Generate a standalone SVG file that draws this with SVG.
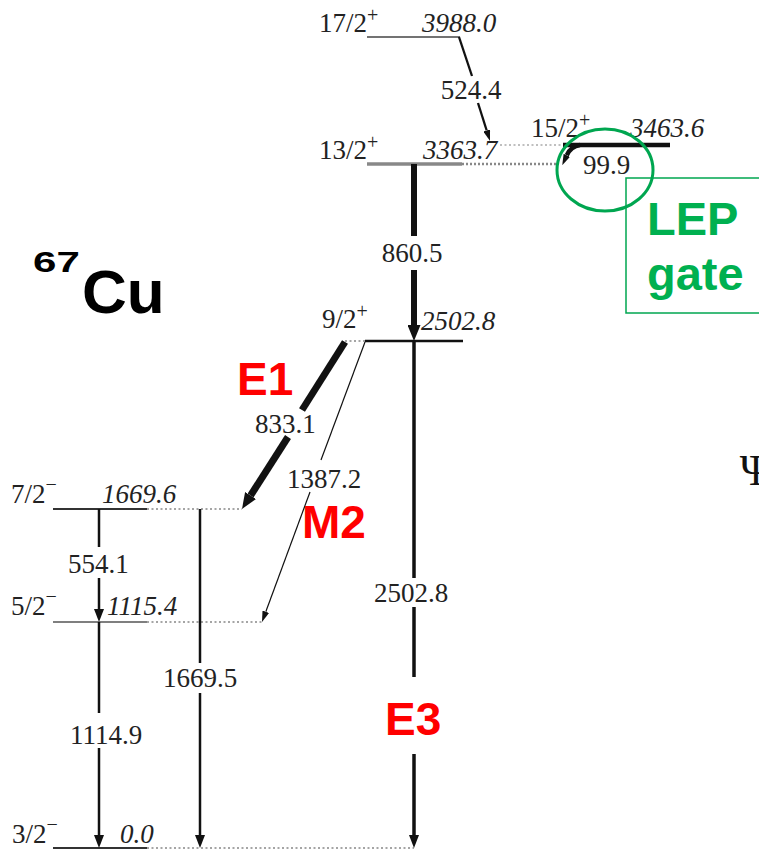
<svg xmlns="http://www.w3.org/2000/svg" width="759" height="851" viewBox="0 0 759 851">
<style>
.t{font-family:"Liberation Serif","Times New Roman",serif;font-size:27px;fill:#222}
.i{font-style:italic}
.sup{font-size:20px}
.lv{stroke:#333;stroke-width:2;fill:none}
.dot{stroke:#888;stroke-width:1.6;stroke-dasharray:2 2.5;fill:none}
.tr{stroke:#111;fill:none}
.red{font-family:"Liberation Sans",Arial,sans-serif;font-weight:bold;font-size:46px;fill:#ff0000}
.grn{font-family:"Liberation Sans",Arial,sans-serif;font-weight:bold;font-size:47px;fill:#00b050}
</style>
<defs>
<marker id="mBig" markerUnits="userSpaceOnUse" markerWidth="16" markerHeight="13" refX="0" refY="6.5" orient="auto"><path d="M0,0 L16,6.5 L0,13 z" fill="#111"/></marker>
<marker id="mMed" markerUnits="userSpaceOnUse" markerWidth="13" markerHeight="10" refX="0" refY="5" orient="auto"><path d="M0,0 L13,5 L0,10 z" fill="#111"/></marker>
<marker id="mThin" markerUnits="userSpaceOnUse" markerWidth="11" markerHeight="7" refX="0" refY="3.5" orient="auto"><path d="M0,0 L11,3.5 L0,7 z" fill="#111"/></marker>
</defs>
<rect width="759" height="851" fill="#fff"/>

<g id="title">
<text transform="translate(33,272) scale(1.45,1)" x="0" y="0" font-family="Liberation Sans,Arial,sans-serif" font-weight="bold" font-size="29" fill="#000">67</text>
<text x="82" y="313" font-family="Liberation Sans,Arial,sans-serif" font-weight="bold" font-size="62" fill="#000">Cu</text>
</g>

<g id="level-17-2">
<line class="lv" x1="367" y1="37" x2="460" y2="37" style="stroke-width:1.5;stroke:#444"/>
<text class="t" x="319" y="32">17/2<tspan class="sup" dy="-10">+</tspan></text>
<text class="t i" x="422" y="32">3988.0</text>
</g>

<g id="level-15-2">
<line class="dot" x1="500" y1="145" x2="563" y2="145" style="stroke:#aaa"/>
<line class="lv" x1="563" y1="145" x2="670" y2="145" style="stroke:#111;stroke-width:4.5"/>
<text class="t" x="531" y="137">15/2<tspan class="sup" dy="-10">+</tspan></text>
<text class="t i" x="630" y="137">3463.6</text>
</g>

<g id="level-13-2">
<line class="lv" x1="367" y1="164" x2="462" y2="164" style="stroke:#888;stroke-width:3.5"/>
<line class="dot" x1="462" y1="164" x2="557" y2="164" style="stroke-width:2.5;stroke-dasharray:2 2"/>
<text class="t" x="319" y="159">13/2<tspan class="sup" dy="-10">+</tspan></text>
<text class="t i" x="423" y="159">3363.7</text>
</g>

<g id="level-9-2">
<line class="dot" x1="345" y1="341" x2="365" y2="341"/>
<line class="lv" x1="365" y1="341" x2="463" y2="341" style="stroke:#111;stroke-width:2.5"/>
<text class="t" x="322" y="328">9/2<tspan class="sup" dy="-10">+</tspan></text>
<text class="t i" x="421" y="330">2502.8</text>
</g>

<g id="level-7-2">
<line class="lv" x1="53" y1="509" x2="147" y2="509"/>
<line class="dot" x1="147" y1="509" x2="242" y2="509"/>
<text class="t" x="11" y="503">7/2<tspan class="sup" dy="-12">−</tspan></text>
<text class="t i" x="102" y="503">1669.6</text>
</g>

<g id="level-5-2">
<line class="lv" x1="53" y1="622" x2="147" y2="622" style="stroke-width:1.5;stroke:#555"/>
<line class="dot" x1="147" y1="622" x2="262" y2="622"/>
<text class="t" x="11" y="615">5/2<tspan class="sup" dy="-12">−</tspan></text>
<text class="t i" x="107" y="615">1115.4</text>
</g>

<g id="level-3-2">
<line class="lv" x1="53" y1="848" x2="147" y2="848"/>
<line class="dot" x1="147" y1="848" x2="414" y2="848"/>
<text class="t" x="12" y="843">3/2<tspan class="sup" dy="-12">−</tspan></text>
<text class="t i" x="120" y="843">0.0</text>
</g>

<g id="connectors">
<!-- 524.4 -->
<line class="tr" stroke-width="2.3" x1="459" y1="37" x2="472" y2="76"/>
<line class="tr" stroke-width="2.3" x1="478" y1="103" x2="486.7" y2="130.5" marker-end="url(#mThin)"/>
<text class="t" x="471" y="99" text-anchor="middle">524.4</text>
<!-- 99.9 -->
<path class="tr" stroke-width="4.5" d="M580,145 Q571,146 566.8,155.3" marker-end="url(#mThin)"/>
<text class="t" x="583" y="174">99.9</text>
<!-- 860.5 -->
<line class="tr" stroke-width="6" x1="414" y1="164" x2="414" y2="236"/>
<line class="tr" stroke-width="6" x1="414" y1="270" x2="414" y2="325" marker-end="url(#mBig)"/>
<text class="t" x="412" y="262" text-anchor="middle">860.5</text>
<!-- 833.1 -->
<line class="tr" stroke-width="7" x1="345" y1="342" x2="302" y2="410"/>
<line class="tr" stroke-width="7" x1="288" y1="437" x2="250.6" y2="495.5" marker-end="url(#mBig)"/>
<text class="t" x="255" y="433">833.1</text>
<!-- 1387.2 -->
<line class="tr" stroke-width="1.2" x1="365" y1="342" x2="321" y2="460"/>
<line class="tr" stroke-width="1.2" x1="310" y1="492" x2="265.8" y2="611.7" marker-end="url(#mThin)"/>
<text class="t" x="287" y="488">1387.2</text>
<!-- 2502.8 -->
<line class="tr" stroke-width="3.5" x1="414" y1="341" x2="414" y2="578"/>
<line class="tr" stroke-width="3.5" x1="414" y1="607" x2="414" y2="677"/>
<line class="tr" stroke-width="3.5" x1="414" y1="754" x2="414" y2="835" marker-end="url(#mMed)"/>
<text class="t" x="411" y="602" text-anchor="middle">2502.8</text>
<!-- 554.1 -->
<line class="tr" stroke-width="2.5" x1="99" y1="509" x2="99" y2="547"/>
<line class="tr" stroke-width="2.5" x1="99" y1="578" x2="99" y2="609" marker-end="url(#mMed)"/>
<text class="t" x="68" y="573">554.1</text>
<!-- 1669.5 -->
<line class="tr" stroke-width="2.5" x1="200" y1="509" x2="200" y2="663"/>
<line class="tr" stroke-width="2.5" x1="200" y1="693" x2="200" y2="835" marker-end="url(#mMed)"/>
<text class="t" x="163" y="687">1669.5</text>
<!-- 1114.9 -->
<line class="tr" stroke-width="2.5" x1="99" y1="622" x2="99" y2="713"/>
<line class="tr" stroke-width="2.5" x1="99" y1="748" x2="99" y2="835" marker-end="url(#mMed)"/>
<text class="t" x="70" y="744">1114.9</text>
</g>

<g id="multipolarity">
<text class="red" x="237" y="395">E1</text>
<text class="red" x="302" y="538">M2</text>
<text class="red" x="385" y="735">E3</text>
</g>

<g id="lep-gate">
<ellipse cx="605" cy="170" rx="48" ry="41" fill="none" stroke="#00a650" stroke-width="3"/>
<rect x="626" y="178" width="140" height="135" fill="none" stroke="#00a650" stroke-width="1.5"/>
<text class="grn" x="647" y="235">LEP</text>
<text class="grn" x="647" y="290">gate</text>
</g>

<text x="756" y="485" text-anchor="middle" font-family="Liberation Serif,serif" font-size="44" fill="#111">Ψ</text>
</svg>
